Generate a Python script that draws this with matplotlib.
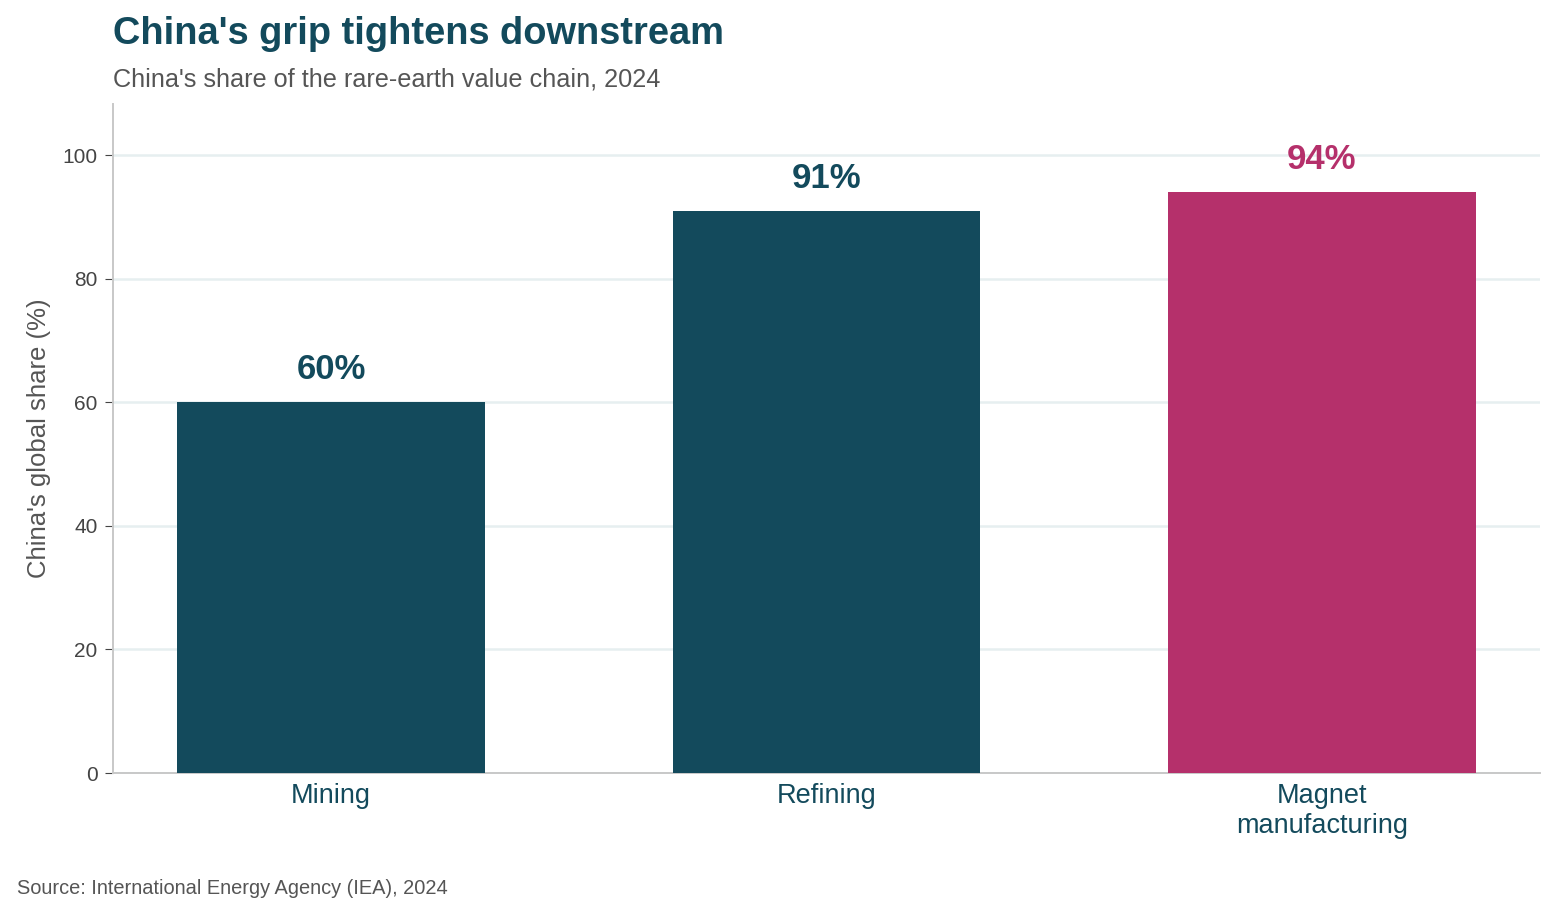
import matplotlib
matplotlib.use("Agg")
import matplotlib.pyplot as plt
import numpy as np

plt.rcParams["font.family"] = ["Liberation Sans", "DejaVu Sans"]

stages = ["Mining", "Refining", "Magnet\nmanufacturing"]
shares = [60, 91, 94]
bar_colors = ["#134A5C", "#134A5C", "#B5306B"]
yticks = [0, 20, 40, 60, 80, 100]

TEAL = "#134A5C"
GREY_TEXT = "#555555"

fig = plt.figure(figsize=(15.56, 9.16), dpi=100)
ax = fig.add_axes([0.0726, 0.1561, 0.9171, 0.7304])

x = np.arange(len(stages))
ax.bar(x, shares, width=0.62, color=bar_colors, zorder=3)

for xi, val, col in zip(x, shares, bar_colors):
    ax.text(xi, val + 2.6, f"{val}%", ha="center", va="bottom", fontsize=25,
            fontweight="bold", color=col, zorder=4)

ax.set_xlim(-0.44, 2.44)
ax.set_ylim(0, 108.3)
ax.set_yticks(yticks)
ax.set_xticks(x, stages)
ax.tick_params(axis="y", labelsize=15, labelcolor="#444444", color="#444444", length=6, pad=5)
ax.tick_params(axis="x", labelsize=19.5, labelcolor=TEAL, length=0, pad=7)
ax.grid(axis="y", color="#E6EFF0", linewidth=1.8, zorder=0)
ax.set_ylabel("China's global share (%)", fontsize=18.5, color=GREY_TEXT, labelpad=8)

for side in ["top", "right"]:
    ax.spines[side].set_visible(False)
for side in ["left", "bottom"]:
    ax.spines[side].set_color("#C8C8C8")
    ax.spines[side].set_linewidth(1.4)

fig.text(113 / 1556, 1 - 34 / 916, "China's grip tightens downstream", fontsize=27.4,
         fontweight="bold", color=TEAL, va="center", ha="left")
fig.text(113 / 1556, 1 - 80 / 916, "China's share of the rare-earth value chain, 2024",
         fontsize=18.2, color=GREY_TEXT, va="center", ha="left")
fig.text(17 / 1556, 1 - 889 / 916, "Source: International Energy Agency (IEA), 2024",
         fontsize=14.4, color=GREY_TEXT, va="center", ha="left")

fig.savefig("out.png", dpi=100)
